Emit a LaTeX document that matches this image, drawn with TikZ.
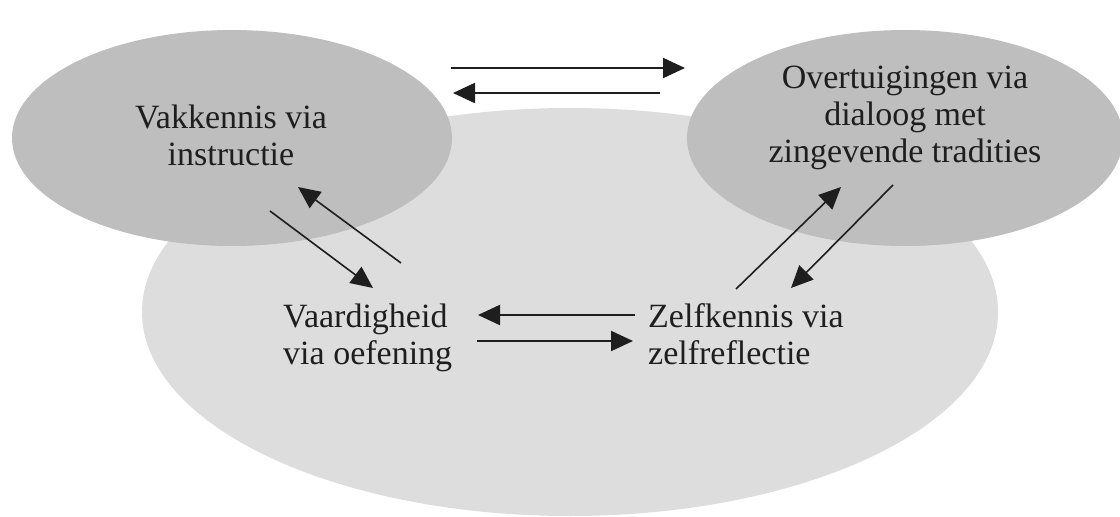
\documentclass[tikz,border=0pt]{standalone}
\usepackage{fontspec}
\setmainfont{Liberation Serif}
\usetikzlibrary{shapes.geometric,arrows.meta}
\definecolor{darkgray1}{RGB}{190,190,190}
\definecolor{lightgray1}{RGB}{221,221,221}
\definecolor{inkc}{RGB}{30,30,30}
\tikzset{
  blob/.style={ellipse, inner sep=0pt, draw=none},
  label1/.style={inner sep=0pt, text=inkc, font=\fontsize{34}{37}\selectfont},
  conn/.style={draw=inkc, line width=2.2pt, -{Triangle[length=22pt,width=20pt]}},
  connthin/.style={draw=inkc, line width=1.6pt, -{Triangle[length=22pt,width=20pt]}},
}
\begin{document}
\begin{tikzpicture}[x=1pt,y=-1pt]
\useasboundingbox (0,0) rectangle (1120,517);
\fill[white] (0,0) rectangle (1120,517);
% ellipses
\node[blob, fill=lightgray1, minimum width=856pt, minimum height=408pt] (big) at (570,312) {};
\node[blob, fill=darkgray1, minimum width=440pt, minimum height=216pt] (left) at (232,138) {};
\node[blob, fill=darkgray1, minimum width=436pt, minimum height=216pt] (right) at (905,138) {};
% texts (base anchor = baseline of last line)
\node[label1, align=center, anchor=base] (vak) at (231,165) {Vakkennis via\\instructie};
\node[label1, align=center, anchor=base] (over) at (905,162) {Overtuigingen via\\dialoog met\\zingevende tradities};
\node[label1, align=left, anchor=base west] (vaard) at (283,364) {Vaardigheid\\via oefening};
\node[label1, align=left, anchor=base west] (zelf) at (648,364) {Zelfkennis via\\zelfreflectie};
% arrow end points
\coordinate (t1a) at (451,68);  \coordinate (t1b) at (685,68);
\coordinate (t2a) at (660,93);  \coordinate (t2b) at (453,93);
\coordinate (l1a) at (270,211); \coordinate (l1b) at (373,288);
\coordinate (l2a) at (401,263); \coordinate (l2b) at (298,187);
\coordinate (r1a) at (736,289); \coordinate (r1b) at (841,187);
\coordinate (r2a) at (893,185); \coordinate (r2b) at (791,288);
\coordinate (m1a) at (635,315); \coordinate (m1b) at (478,315);
\coordinate (m2a) at (477,341); \coordinate (m2b) at (633,341);
% arrows
\draw[conn] (t1a) -- (t1b);
\draw[conn] (t2a) -- (t2b);
\draw[connthin] (l1a) -- (l1b);
\draw[connthin] (l2a) -- (l2b);
\draw[connthin] (r1a) -- (r1b);
\draw[connthin] (r2a) -- (r2b);
\draw[conn] (m1a) -- (m1b);
\draw[conn] (m2a) -- (m2b);
\end{tikzpicture}
\end{document}
